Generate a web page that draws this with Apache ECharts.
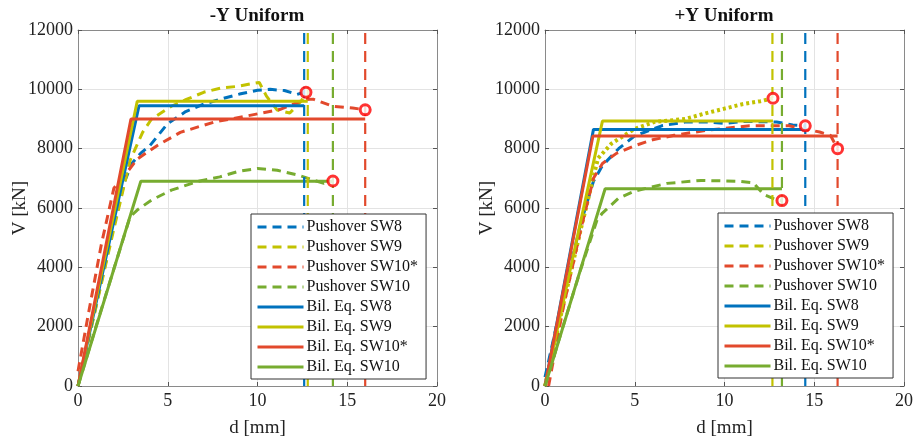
<!DOCTYPE html>
<html><head><meta charset="utf-8">
<script src="https://cdn.jsdelivr.net/npm/echarts@6/dist/echarts.min.js"></script>
<style>html,body{margin:0;padding:0;background:#fff}#c{width:921px;height:443px}</style>
</head><body><div id="c"></div>
<script>
// ---------- data ----------
const titles = ['-Y Uniform', '+Y Uniform'];
const names = ['Pushover SW8','Pushover SW9','Pushover SW10*','Pushover SW10','Bil. Eq. SW8','Bil. Eq. SW9','Bil. Eq. SW10*','Bil. Eq. SW10'];
const xTicks = [0,5,10,15,20];
const yTicks = [0,2000,4000,6000,8000,10000,12000];

// -Y Uniform
const pushL_SW8 = [[0,0],[1,2700],[2,5400],[2.6,6900],[3,7500],[3.5,7850],[4,8100],[5,8850],[6,9250],[7,9500],[8,9680],[9,9840],[10,9970],[10.7,10000],[11.5,9960],[12.2,9830],[12.6,9900]];
const pushL_SW9 = [[0,0],[1,2650],[2,5300],[2.9,7600],[3.6,8550],[4.1,9000],[5.2,9430],[6,9650],[7,9900],[8,10050],[8.9,10100],[9.6,10180],[10.1,10230],[10.5,9770],[11.1,9300],[11.8,9200],[12.4,9580],[12.7,9850]];
const pushL_SW10s = [[0,500],[0.6,2500],[1.3,4770],[2,6670],[2.6,7100],[3.3,7650],[4.4,8100],[5.7,8550],[7.6,8900],[9.4,9100],[11.3,9330],[12.6,9650],[13.1,9670],[14.2,9430],[15.3,9370],[16.0,9310]];
const pushL_SW10 = [[0,0],[1,2000],[2,3950],[2.9,5700],[3.3,5930],[4.1,6270],[5.2,6600],[6.7,6900],[7.9,7050],[8.9,7230],[10,7330],[11.1,7270],[12.2,7120],[13.7,6830],[14.2,6900]];
const bilL_SW8 = [[0,0],[3.4,9450],[12.6,9450]];
const bilL_SW9 = [[0,0],[3.3,9600],[12.8,9600]];
const bilL_SW10s = [[0,0],[2.95,9000],[16.0,9000]];
const bilL_SW10 = [[0,0],[3.5,6900],[14.2,6900]];
const ultL = [12.6, 12.8, 16.0, 14.2];          // SW8, SW9, SW10*, SW10
const failL = [[12.7,9900],[16.0,9310],[14.2,6910]];

// +Y Uniform
const pushR_SW8 = [[0,300],[1,3000],[2,5500],[2.7,6900],[3.2,7430],[4.1,8000],[5,8430],[6.5,8770],[7.8,8900],[9.1,8900],[10,8850],[11,8920],[12.9,8900],[13.8,8800],[14.5,8770]];
const pushR_SW9 = [[0,0],[1,2700],[2,5300],[2.95,7670],[3.7,8170],[5,8670],[6.1,8900],[7.8,9000],[9,9200],[10,9350],[11,9500],[12,9600],[12.7,9700]];
const pushR_SW10s = [[0.2,0],[1,2600],[2,5300],[2.7,7000],[3.2,7500],[4,7850],[5,8100],[6,8300],[7.2,8450],[9,8620],[10.6,8720],[11.4,8770],[13.6,8770],[15.3,8560],[15.9,8450],[16.3,8000]];
const pushR_SW10 = [[0,0],[1,2000],[2,3950],[2.9,5600],[3.2,5830],[4.1,6330],[5,6570],[6.8,6830],[8.7,6930],[10.8,6900],[11.6,6850],[12.2,6450],[12.8,6300],[13.2,6250]];
const bilR_SW8 = [[0,0],[2.7,8650],[14.5,8650]];
const bilR_SW9 = [[0,0],[3.2,8930],[12.7,8930]];
const bilR_SW10s = [[0,0],[2.67,8430],[16.3,8430]];
const bilR_SW10 = [[0,0],[3.35,6650],[13.2,6650]];
const ultR = [14.5, 12.67, 16.3, 13.2];
const failR = [[12.7,9700],[14.5,8770],[16.3,8000],[13.2,6250]];

// ---------- styling ----------
const colors = ['#0072BD','#C2C200','#E2492C','#77AC30'];
const FONT = 'Liberation Serif';
const grids = [
  {left:78, top:30, width:359, height:360},
  {left:545, top:30, width:359, height:360}
];

function xAx(g, pos, labels){
  return {type:'value', gridIndex:g, position:pos, min:xTicks[0], max:xTicks[xTicks.length-1], interval:5,
    name: labels ? 'd [mm]' : '', nameLocation:'middle', nameGap:33,
    nameTextStyle:{fontFamily:FONT, fontSize:19, color:'#222'},
    axisLine:{show:true, onZero:false, lineStyle:{color:'#8a8a8a', width:1}},
    axisTick:{show:true, inside:true, length:4, lineStyle:{color:'#555'}},
    axisLabel:{show:labels, fontFamily:FONT, fontSize:18, color:'#222', margin:6, formatter:v=>String(v)},
    splitLine:{show:labels, lineStyle:{color:'#e3e3e3', width:1}}};
}
function yAx(g, pos, labels){
  return {type:'value', gridIndex:g, position:pos, min:yTicks[0], max:yTicks[yTicks.length-1], interval:2000,
    name: labels ? 'V [kN]' : '', nameLocation:'middle', nameGap:48, nameMoveOverlap:false,
    nameTextStyle:{fontFamily:FONT, fontSize:19, color:'#222'},
    axisLine:{show:true, onZero:false, lineStyle:{color:'#8a8a8a', width:1}},
    axisTick:{show:true, inside:true, length:4, lineStyle:{color:'#555'}},
    axisLabel:{show:labels, fontFamily:FONT, fontSize:18, color:'#222', margin:5, formatter:v=>String(v)},
    splitLine:{show:labels, lineStyle:{color:'#e3e3e3', width:1}}};
}

const series = [];
function addPanel(g, push, bil, ult, fail){
  const xi = g*2, yi = g*2;
  push.forEach((d,i)=>{
    const hatch = (g===1 && i===1);
    series.push({name:names[i], type:'line', xAxisIndex:xi, yAxisIndex:yi, data:d, symbol:'none',
      lineStyle:{color:colors[i], width: hatch?4:3, type: hatch?[3,3]:[9,6]}, itemStyle:{color:colors[i]}, z:2, animation:false});
  });
  bil.forEach((d,i)=>series.push({name:names[i+4], type:'line', xAxisIndex:xi, yAxisIndex:yi, data:d, symbol:'none',
    lineStyle:{color:colors[i], width:3}, itemStyle:{color:colors[i]}, z:3, animation:false}));
  ult.forEach((u,i)=>series.push({name:'ult'+g+'_'+i, type:'line', xAxisIndex:xi, yAxisIndex:yi,
    data:[[u,yTicks[0]],[u,yTicks[yTicks.length-1]]], symbol:'none',
    lineStyle:{color:colors[i], width:2.2, type:[11,7]}, z:3, animation:false, silent:true}));
  series.push({name:'fail'+g, type:'scatter', xAxisIndex:xi, yAxisIndex:yi, data:fail, symbol:'circle', symbolSize:10,
    itemStyle:{color:'#ffffff', borderColor:'#ff0000', borderWidth:3}, z:5, animation:false});
}
addPanel(0, [pushL_SW8,pushL_SW9,pushL_SW10s,pushL_SW10], [bilL_SW8,bilL_SW9,bilL_SW10s,bilL_SW10], ultL, failL);
addPanel(1, [pushR_SW8,pushR_SW9,pushR_SW10s,pushR_SW10], [bilR_SW8,bilR_SW9,bilR_SW10s,bilR_SW10], ultR, failR);

function legend(left, top){
  return {show:true, orient:'vertical', left:left, top:top,
    data:names.map((n,i)=>({name:n, lineStyle:{type: i<4 ? [9,6] : 'solid', width:3}})),
    itemWidth:46, itemHeight:14, itemGap:4,
    itemStyle:{opacity:0},
    padding:[5,8,4,5], backgroundColor:'#fff', borderColor:'#333', borderWidth:1, borderRadius:0,
    textStyle:{fontFamily:FONT, fontSize:16, color:'#111', padding:[0,0,0,-2], lineHeight:14}, selectedMode:false, z:10};
}

const chart = echarts.init(document.getElementById('c'), null, {renderer:'canvas'});
chart.setOption({
  animation:false,
  backgroundColor:'#fff',
  grid: grids,
  xAxis:[xAx(0,'bottom',true), xAx(0,'top',false), xAx(1,'bottom',true), xAx(1,'top',false)].map((a,i)=>{a.gridIndex = i<2?0:1; return a;}),
  yAxis:[yAx(0,'left',true), yAx(0,'right',false), yAx(1,'left',true), yAx(1,'right',false)].map((a,i)=>{a.gridIndex = i<2?0:1; return a;}),
  legend:[legend(251,214), legend(718,213)],
  graphic:[
    {type:'text', x:257, y:16, style:{text:titles[0], font:'bold 19px "Liberation Serif"', fill:'#111', textAlign:'center', textVerticalAlign:'middle'}},
    {type:'text', x:724, y:16, style:{text:titles[1], font:'bold 19px "Liberation Serif"', fill:'#111', textAlign:'center', textVerticalAlign:'middle'}}
  ],
  series: series
});
</script></body></html>
